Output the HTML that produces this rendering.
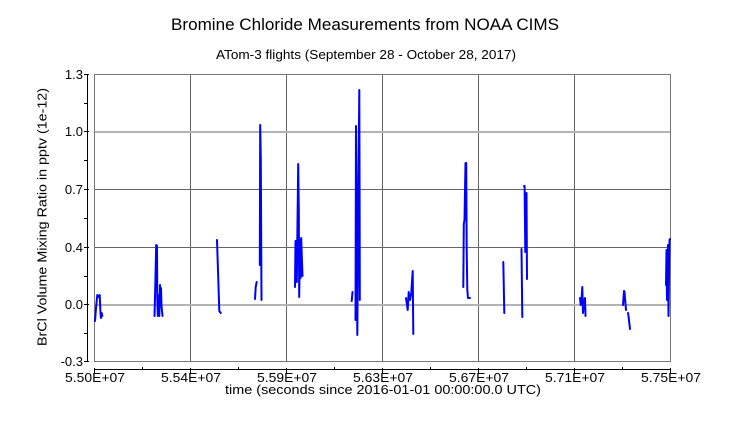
<!DOCTYPE html>
<html>
<head>
<meta charset="utf-8">
<style>
html,body{margin:0;padding:0;background:#fff;}
svg{display:block;}
text{font-family:"Liberation Sans","DejaVu Sans",sans-serif;fill:#000;}
</style>
</head>
<body>
<svg width="736" height="432" viewBox="0 0 736 432" xmlns="http://www.w3.org/2000/svg">
<rect x="0" y="0" width="736" height="432" fill="#fff"/>

<!-- Titles -->
<text x="365" y="30" font-size="17" text-anchor="middle" textLength="388" lengthAdjust="spacingAndGlyphs">Bromine Chloride Measurements from NOAA CIMS</text>
<text x="366" y="59" font-size="13" text-anchor="middle" textLength="300" lengthAdjust="spacingAndGlyphs">ATom-3 flights (September 28 - October 28, 2017)</text>

<!-- Grid -->
<g shape-rendering="crispEdges">
<rect x="190" y="74" width="1" height="288" fill="#666"/>
<rect x="286" y="74" width="1" height="288" fill="#666"/>
<rect x="382" y="74" width="1" height="288" fill="#666"/>
<rect x="478" y="74" width="1" height="288" fill="#666"/>
<rect x="574" y="74" width="1" height="288" fill="#666"/>
<rect x="94" y="131" width="576" height="2" fill="#b4b4b4"/>
<rect x="94" y="189" width="576" height="1" fill="#666"/>
<rect x="94" y="247" width="576" height="1" fill="#666"/>
<rect x="94" y="304" width="576" height="2" fill="#b4b4b4"/>
<!-- frame -->
<rect x="94" y="74" width="577" height="1" fill="#777"/>
<rect x="94" y="361" width="577" height="1" fill="#777"/>
<rect x="94" y="74" width="1" height="288" fill="#777"/>
<rect x="670" y="74" width="1" height="288" fill="#777"/>
</g>

<!-- Data -->
<g fill="none" stroke="#0000ff" stroke-width="2" stroke-linejoin="round" stroke-linecap="round">
<polyline points="95,321 96,308 97.3,295 98.5,297 99.7,295 100.5,313 101,318 101.7,313 102.3,316"/>
<polyline points="154.5,316 155.3,285 156.2,245 157,246 157.3,300 157.8,316 158.3,295 158.8,302 159.3,316 160,285 160.5,303 161,288 161.5,306 162.5,316"/>
<polyline points="217,240 219.3,311 220.7,313"/>
<polyline points="255,299 255.7,287 256.7,282"/>
<polyline points="259.8,265 260.2,125 260.8,160 261.5,300"/>
<polyline points="295,287 295.5,241 296.3,241 296.8,282 298.2,164 298.8,210 299.2,297 300,240 300.6,278 301.2,238 302,262 302.5,276"/>
<polyline points="351.7,301 352.5,292"/>
<polyline points="355.5,320 356,126 356.6,200 357.3,335 358.5,180 359.3,90 359.6,200 359.8,300"/>
<polyline points="406,298 407.7,310 408.7,292 410,300 411.3,293 412.7,271 413.3,334"/>
<polyline points="463.3,287 463.8,224 464.5,220 465.5,163 466.2,163 466.7,250 467.3,290 468,298 470,298"/>
<polyline points="503.3,262 504.3,313"/>
<polyline points="521.5,249 522.3,317"/>
<polyline points="524,186 524.6,186 525.3,252 526,195 526.5,193 527,279"/>
<polyline points="580,298 580.7,305 581.5,300 582.3,287 583,313 584,302 585,298 585.5,316"/>
<polyline points="623,305 624,291 624.5,292 626,310"/>
<polyline points="628,313 628.5,316 630,329"/>
<polyline points="666,285 666.5,250 667,300 668,245 668.5,316 669.5,240 670,239"/>
</g>

<!-- Left axis -->
<g shape-rendering="crispEdges" fill="#000">
<rect x="87" y="74" width="1" height="288"/>
<rect x="84" y="74" width="5" height="1"/>
<rect x="84" y="131" width="5" height="1"/>
<rect x="84" y="189" width="5" height="1"/>
<rect x="84" y="247" width="5" height="1"/>
<rect x="84" y="304" width="5" height="1"/>
<rect x="84" y="361" width="5" height="1"/>
<rect x="84" y="103" width="3" height="1"/>
<rect x="84" y="160" width="3" height="1"/>
<rect x="84" y="218" width="3" height="1"/>
<rect x="84" y="276" width="3" height="1"/>
<rect x="84" y="333" width="3" height="1"/>
</g>
<g font-size="13" text-anchor="end">
<text x="83" y="79">1.3</text>
<text x="83" y="136">1.0</text>
<text x="83" y="194">0.7</text>
<text x="83" y="252">0.4</text>
<text x="83" y="309">0.0</text>
<text x="83" y="366">-0.3</text>
</g>

<!-- Bottom axis -->
<g shape-rendering="crispEdges" fill="#000">
<rect x="94" y="369" width="577" height="1"/>
<rect x="94" y="368" width="1" height="5"/>
<rect x="190" y="368" width="1" height="5"/>
<rect x="286" y="368" width="1" height="5"/>
<rect x="382" y="368" width="1" height="5"/>
<rect x="478" y="368" width="1" height="5"/>
<rect x="574" y="368" width="1" height="5"/>
<rect x="670" y="368" width="1" height="5"/>
<rect x="142" y="367" width="1" height="3"/>
<rect x="238" y="367" width="1" height="3"/>
<rect x="334" y="367" width="1" height="3"/>
<rect x="430" y="367" width="1" height="3"/>
<rect x="526" y="367" width="1" height="3"/>
<rect x="622" y="367" width="1" height="3"/>
</g>
<g font-size="13" text-anchor="middle">
<text x="95" y="382" textLength="60" lengthAdjust="spacingAndGlyphs">5.50E+07</text>
<text x="191" y="382" textLength="60" lengthAdjust="spacingAndGlyphs">5.54E+07</text>
<text x="287" y="382" textLength="60" lengthAdjust="spacingAndGlyphs">5.59E+07</text>
<text x="383" y="382" textLength="60" lengthAdjust="spacingAndGlyphs">5.63E+07</text>
<text x="479" y="382" textLength="60" lengthAdjust="spacingAndGlyphs">5.67E+07</text>
<text x="575" y="382" textLength="60" lengthAdjust="spacingAndGlyphs">5.71E+07</text>
<text x="671" y="382" textLength="60" lengthAdjust="spacingAndGlyphs">5.75E+07</text>
</g>

<!-- Axis titles -->
<text x="383" y="394" font-size="13" text-anchor="middle" textLength="316" lengthAdjust="spacingAndGlyphs">time (seconds since 2016-01-01 00:00:00.0 UTC)</text>
<text transform="translate(46.5,217) rotate(-90)" x="0" y="0" font-size="13" text-anchor="middle" textLength="258" lengthAdjust="spacingAndGlyphs">BrCl Volume Mixing Ratio in pptv (1e-12)</text>
</svg>
</body>
</html>
